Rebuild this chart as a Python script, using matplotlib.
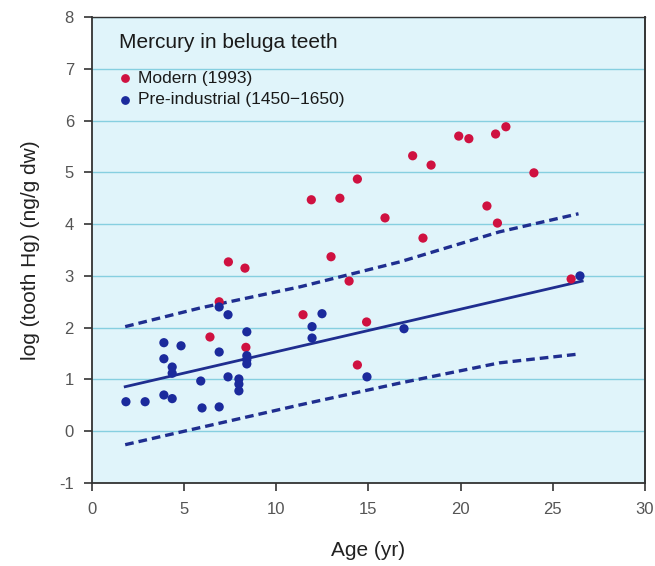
import numpy as np
import matplotlib
matplotlib.use('Agg')
import matplotlib.pyplot as plt

plt.rcParams['font.family'] = ['Liberation Sans Narrow', 'Liberation Sans', 'DejaVu Sans']
plt.rcParams['axes.unicode_minus'] = False

# modern samples (1993)
modern_age = [6.4, 6.9, 7.4, 8.3, 8.35, 11.45, 11.9, 12.97, 13.45, 13.95, 14.4, 14.4, 14.9,
              15.9, 17.4, 17.96, 18.4, 19.9, 20.45, 21.43, 21.9, 22.0, 22.46, 23.98, 26.0]
modern_hg = [1.82, 2.5, 3.27, 3.15, 1.62, 2.25, 4.47, 3.37, 4.5, 2.9, 4.87, 1.28, 2.11,
             4.12, 5.32, 3.73, 5.14, 5.70, 5.65, 4.35, 5.74, 4.02, 5.88, 4.99, 2.94]

# pre-industrial samples (1450-1650)
pre_age = [1.84, 2.88, 3.9, 3.9, 3.9, 4.35, 4.35, 4.35, 4.83, 5.9, 5.97, 6.9, 6.9, 6.9, 7.38,
           7.38, 7.97, 7.97, 7.97, 8.4, 8.4, 8.4, 8.4, 11.94, 11.94, 12.48, 14.92, 16.93, 26.48]
pre_hg = [0.57, 0.57, 1.71, 1.40, 0.70, 1.24, 1.12, 0.63, 1.65, 0.97, 0.45, 0.47, 1.53, 2.40, 2.25,
          1.05, 1.01, 0.91, 0.78, 1.92, 1.46, 1.38, 1.30, 2.02, 1.80, 2.27, 1.05, 1.98, 3.00]

# regression line and bands for pre-industrial data
fit_age = [1.8, 26.6]
fit_hg = [0.86, 2.90]
band_age = [1.8, 5.86, 11.3, 16.7, 22.1, 26.4]
band_upper = [2.02, 2.38, 2.79, 3.27, 3.85, 4.20]
band_lower = [-0.26, 0.07, 0.51, 0.93, 1.32, 1.49]

red = '#cf1140'
blue = '#1b2a9c'
line_blue = '#1f2e8f'

fig = plt.figure(figsize=(6.55, 5.66), dpi=100)
ax = fig.add_axes([0.1405, 0.1466, 0.844, 0.8234])
ax.set_facecolor('#e0f4fa')

for y in range(-1, 9):
    ax.axhline(y, color='#86cfe0', lw=1.0, zorder=1)

ax.plot(band_age, band_upper, color=line_blue, lw=2.4, ls=(0, (2.6, 1.5)), zorder=2)
ax.plot(band_age, band_lower, color=line_blue, lw=2.4, ls=(0, (2.6, 1.5)), zorder=2)
ax.plot(fit_age, fit_hg, color=line_blue, lw=2.0, zorder=2)

ax.scatter(modern_age, modern_hg, s=44, color=red, edgecolors='none', zorder=3)
ax.scatter(pre_age, pre_hg, s=44, color=blue, edgecolors='none', zorder=4)

ax.set_xlim(0, 30)
ax.set_ylim(-1, 8)
ax.set_xticks(range(0, 31, 5))
ax.set_yticks(range(-1, 9))

for side in ['left', 'bottom', 'right', 'top']:
    ax.spines[side].set_color('#333333')
ax.spines['left'].set_linewidth(1.3)
ax.spines['bottom'].set_linewidth(1.3)
ax.spines['right'].set_linewidth(1.4)
ax.spines['top'].set_linewidth(1.0)

ax.tick_params(axis='both', direction='out', length=6, width=1.2, color='#333333',
               labelcolor='#555555', labelsize=12, pad=7)
ax.tick_params(axis='x', pad=8)

ax.set_xlabel('Age (yr)', fontsize=15, color='#222222', labelpad=17)
ax.set_ylabel('log (tooth Hg) (ng/g dw)', fontsize=15, color='#222222', labelpad=14)

# title and legend inside the plot
ax.text(0.048, 0.945, 'Mercury in beluga teeth', transform=ax.transAxes,
        fontsize=15, color='#1a1a1a', va='center', ha='left')
ax.scatter([0.06], [0.869], s=28, color=red, transform=ax.transAxes, clip_on=False, zorder=5)
ax.text(0.083, 0.869, 'Modern (1993)', transform=ax.transAxes,
        fontsize=12.5, color='#1a1a1a', va='center', ha='left')
ax.scatter([0.06], [0.822], s=28, color=blue, transform=ax.transAxes, clip_on=False, zorder=5)
ax.text(0.083, 0.822, 'Pre-industrial (1450\u22121650)', transform=ax.transAxes,
        fontsize=12.5, color='#1a1a1a', va='center', ha='left')

fig.savefig('out.png', dpi=100)
